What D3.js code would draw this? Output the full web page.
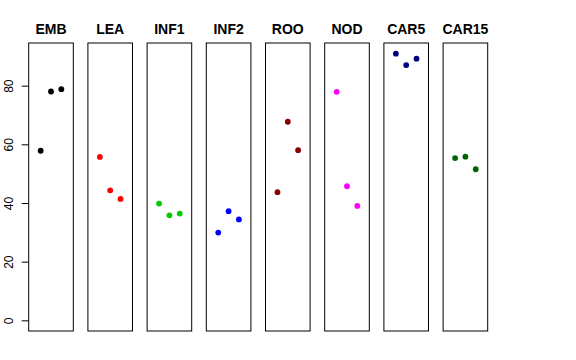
<!DOCTYPE html>
<html><head><meta charset="utf-8">
<script src="https://cdn.jsdelivr.net/npm/d3@7"></script>
<style>body{margin:0;background:#fff}svg{display:block}</style>
</head><body>
<script>
const categories = ["EMB","LEA","INF1","INF2","ROO","NOD","CAR5","CAR15"];
const colors = ["#000000","#FF0000","#00CD00","#0000FF","#8B0000","#FF00FF","#000080","#006400"];
const rep1 = [57.8, 55.7, 39.8, 29.9, 43.7, 77.9, 90.9, 55.3];
const rep2 = [78.0, 44.3, 35.8, 37.2, 67.7, 45.7, 87.0, 55.8];
const rep3 = [78.8, 41.4, 36.4, 34.4, 58.0, 39.0, 89.2, 51.5];
const yTicks = [0, 20, 40, 60, 80];

const W = 576, H = 360;
const svg = d3.select("body").append("svg").attr("width", W).attr("height", H);

const panelLeft0 = 28.7, pitch = 59.2, panelW = 44.6;
const plotTop = 43, plotBottom = 331;
const ymax = d3.max([...rep1, ...rep2, ...rep3]);
const y = d3.scaleLinear().domain([-0.04 * ymax, ymax * 1.04]).range([plotBottom, plotTop]);
const x = d3.scaleLinear().domain([-0.16, 4.16]).range([0, panelW]);

categories.forEach((c, i) => {
  const g = svg.append("g").attr("transform", `translate(${panelLeft0 + i * pitch},0)`);
  g.append("rect").attr("x", 0).attr("y", plotTop).attr("width", panelW).attr("height", plotBottom - plotTop)
    .attr("fill", "none").attr("stroke", "#000").attr("stroke-width", 1);
  g.append("text").attr("x", panelW / 2).attr("y", 34.3).attr("text-anchor", "middle")
    .attr("font-family", "Liberation Sans, Arial, sans-serif").attr("font-weight", "bold")
    .attr("font-size", 14).text(c);
  const vals = [rep1[i], rep2[i], rep3[i]];
  g.selectAll("circle").data(vals).join("circle")
    .attr("cx", (d, j) => x(j + 1)).attr("cy", d => y(d)).attr("r", 2.9)
    .attr("fill", colors[i]);
  if (i === 0) {
    const ax = g.append("g").call(d3.axisLeft(y).tickValues(yTicks).tickSize(7).tickFormat(d3.format("d")));
    ax.select(".domain").remove();
    ax.selectAll("line").attr("stroke", "#000");
    ax.selectAll("text").attr("font-family", "Liberation Sans, Arial, sans-serif").attr("font-size", 12)
      .attr("fill", "#000")
      .attr("x", null).attr("y", 0).attr("dy", null).attr("text-anchor", "middle")
      .attr("transform", "translate(-15.7,0) rotate(-90)");
  }
});
</script>
</body></html>
